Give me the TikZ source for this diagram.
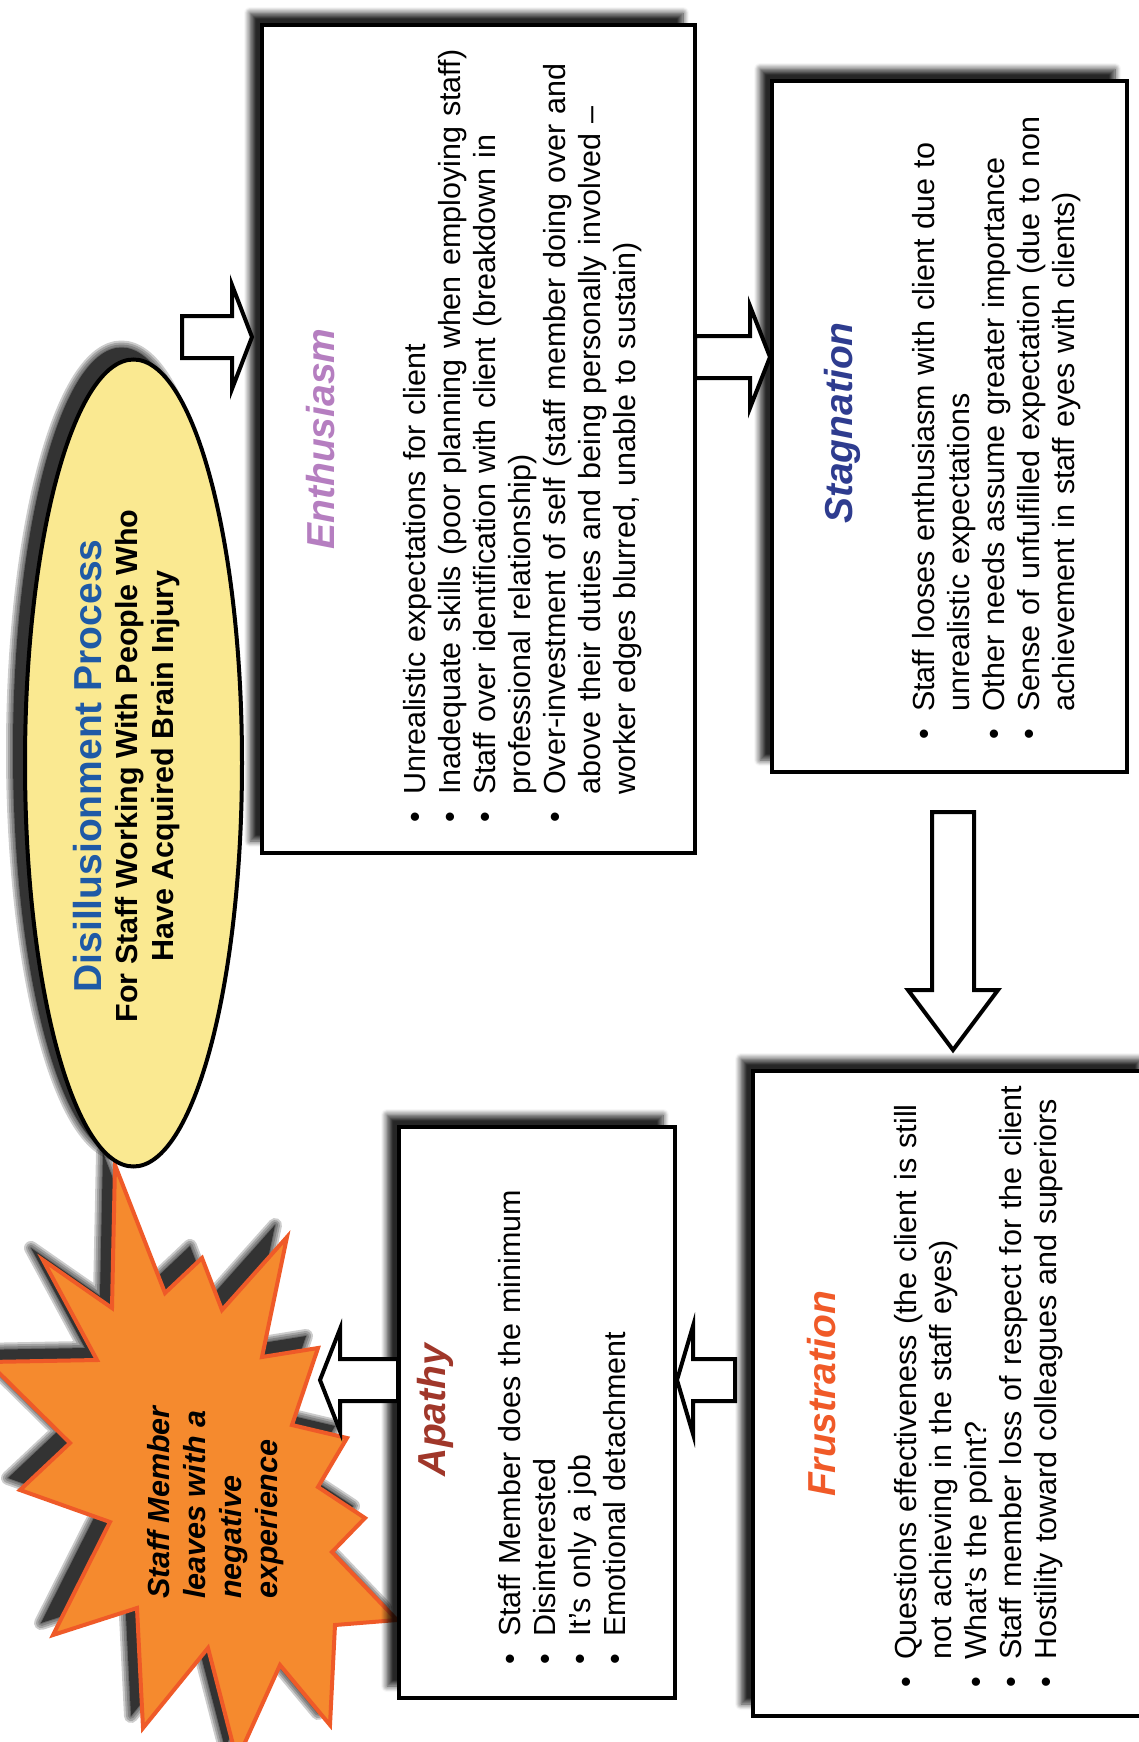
\documentclass[tikz,border=0pt]{standalone}
\usepackage{fontspec}
\setmainfont{Liberation Sans}
\usetikzlibrary{shapes.geometric, shadows.blur}

\definecolor{ellfill}{RGB}{250,233,145}
\definecolor{titleblue}{RGB}{31,90,166}
\definecolor{enthcol}{RGB}{181,126,192}
\definecolor{stagcol}{RGB}{46,60,143}
\definecolor{frustcol}{RGB}{240,90,40}
\definecolor{apathycol}{RGB}{160,55,42}
\definecolor{starfill}{RGB}{245,138,46}
\definecolor{starline}{RGB}{239,90,40}

% one bullet point, wrapped lines hang under the text
\newcommand\bul[1]{\par\noindent\hangindent=28pt\hangafter=1\makebox[28pt][l]{\textbullet}#1\par}

% block arrow: tail, angle, length, head length, head half width
\newcommand\flowarrow[5]{%
  \draw[blockarr, shift={#1}, rotate=#2]
    (0,-21) -- (#3-#4,-21) -- (#3-#4,-#5) -- (#3,0) -- (#3-#4,#5) -- (#3-#4,21) -- (0,21) -- cycle;}

% outline of the star
\newcommand\starpath{(115,1165) -- (165,1293) -- (202,1258) -- (222,1310) -- (287,1237) -- (262,1357)
  -- (318,1348) -- (292,1425) -- (347,1438) -- (318,1487) -- (365,1518) -- (332,1552)
  -- (397,1620) -- (335,1625) -- (330,1725) -- (280,1665) -- (237,1760) -- (208,1648)
  -- (143,1728) -- (137,1608) -- (53,1635) -- (110,1522) -- (20,1490) -- (70,1443)
  -- (-12,1362) -- (97,1360) -- (43,1260) -- (112,1308) -- cycle}

% soft dark copy of a path, up and to the left
\newcommand\softshadow[1]{%
  \begin{scope}[shift={(-12,-12)}]
    \foreach \w in {14,10,6,2} {\draw[black, line width=\w pt, opacity=0.2, line join=round] #1;}
    \fill[black!80] #1;
  \end{scope}}

\begin{document}
\begin{tikzpicture}[
  x=1pt, y=-1pt,
  dropshadow/.style={blur shadow={shadow xshift=-12pt, shadow yshift=12pt, shadow blur radius=6pt, shadow blur steps=8, shadow opacity=85}},
  stagebox/.style={draw, line width=4pt, fill=white, inner sep=0pt, dropshadow},
  stagetitle/.style={rotate=90, inner sep=0pt, font=\fontsize{39}{44}\selectfont\bfseries\itshape},
  stagelist/.style={rotate=90, anchor=north west, inner sep=0pt, text width=800pt, font=\fontsize{30.5}{35}\selectfont},
  blockarr/.style={draw, line width=4pt, fill=white, line join=miter},
  starburst/.style={draw=starline, line width=4pt, fill=starfill, line join=miter}
]
\useasboundingbox (0,0) rectangle (1139,1742);
\clip (0,0) rectangle (1139,1742);

% Star
\softshadow{\starpath}
\draw[starburst] \starpath;

% Nodes
\softshadow{(133.5,763) ellipse [x radius=108.5, y radius=403.5]}
\node[ellipse, draw, line width=4pt, fill=ellfill, minimum width=217, minimum height=807, inner sep=0pt] (ell) at (133.5,763) {};
\node[stagebox, minimum width=433, minimum height=828] (enth) at (478.5,439) {};
\node[stagebox, minimum width=355, minimum height=691] (stag) at (949.5,426.5) {};
\node[stagebox, minimum width=400, minimum height=645] (frust) at (953,1393.5) {};
\node[stagebox, minimum width=276, minimum height=571] (apathy) at (537,1412.5) {};

% Arrows
\coordinate (a1) at (182,337);
\coordinate (a2) at (695,357);
\coordinate (a3) at (953,812);
\coordinate (a4) at (735,1380);
\coordinate (a5) at (398,1380);
\flowarrow{(a1)}{0}{70}{20}{52}
\flowarrow{(a2)}{0}{75}{20}{51}
\flowarrow{(a3)}{-90}{238}{60}{45}
\flowarrow{(a4)}{180}{58}{16}{54}
\flowarrow{(a5)}{180}{78}{20}{51}

% Texts
\node[rotate=90, align=center, inner sep=0pt, font=\bfseries\fontsize{30.5}{36}\selectfont] (elltxt) at (127,766)
  {{\color{titleblue}\fontsize{39}{36}\selectfont Disillusionment Process}\\For Staff Working With People Who\\Have Acquired Brain Injury};

\node[stagetitle, text=enthcol] (enthT) at (321,439) {Enthusiasm};
\node[stagelist] (enthL) at (390,823) {%
  \bul{Unrealistic expectations for client}
  \bul{Inadequate skills (poor planning when employing staff)}
  \bul{Staff over identification with client (breakdown in\newline professional relationship)}
  \bul{Over-investment of self (staff member doing over and\newline above their duties and being personally involved –\newline worker edges blurred, unable to sustain)}};

\node[stagetitle, text=stagcol] (stagT) at (842,423) {Stagnation};
\node[stagelist] (stagL) at (899,740) {%
  \bul{Staff looses enthusiasm with client due to\newline unrealistic expectations}
  \bul{Other needs assume greater importance}
  \bul{Sense of unfulfilled expectation (due to non\newline achievement in staff eyes with clients)}};

\node[stagetitle, text=frustcol] (frustT) at (822,1394) {Frustration};
\node[stagelist] (frustL) at (881,1688) {%
  \bul{Questions effectiveness (the client is still\newline not achieving in the staff eyes)}
  \bul{What’s the point?}
  \bul{Staff member loss of respect for the client}
  \bul{Hostility toward colleagues and superiors}};

\node[stagetitle, text=apathycol] (apathyT) at (435,1410) {Apathy};
\node[stagelist] (apathyL) at (485,1665) {%
  \bul{Staff Member does the minimum}
  \bul{Disinterested}
  \bul{It’s only a job}
  \bul{Emotional detachment}};

\node[rotate=90, anchor=north west, align=left, inner sep=0pt, font=\bfseries\itshape\fontsize{30.5}{36}\selectfont] (startxt) at (147,1599)
  {Staff Member\\leaves with a\\negative\\experience};

\end{tikzpicture}
\end{document}
